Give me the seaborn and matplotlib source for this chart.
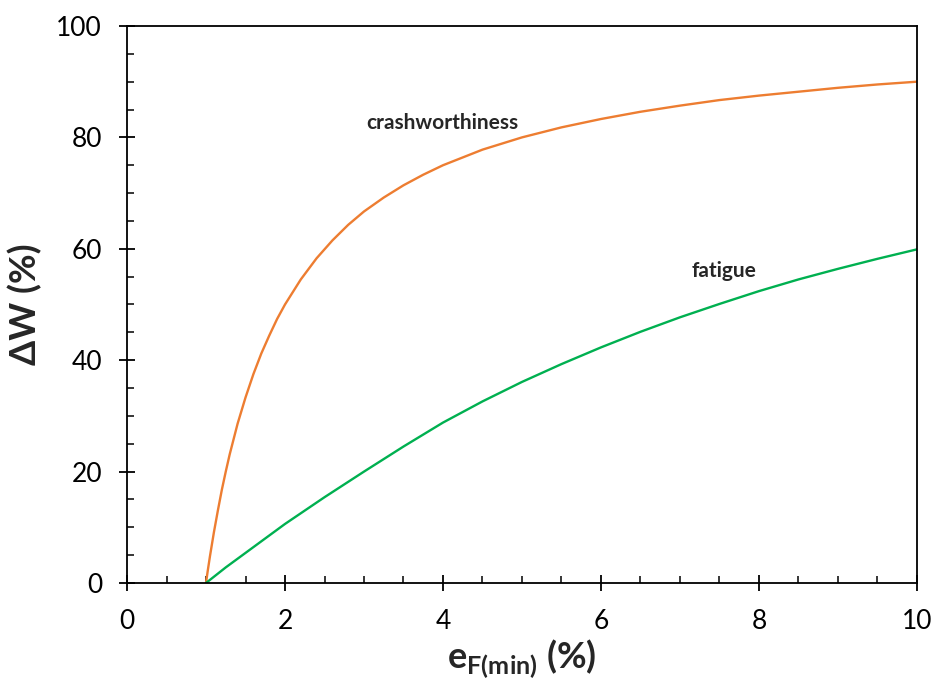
import matplotlib
matplotlib.use("Agg")
import matplotlib.pyplot as plt
import seaborn as sns
import pandas as pd
from matplotlib.ticker import MultipleLocator

# values
crash_x = [1.0, 1.02, 1.05, 1.1, 1.15, 1.2, 1.25, 1.3, 1.4, 1.5, 1.6, 1.7, 1.8, 1.9,
           2.0, 2.2, 2.4, 2.6, 2.8, 3.0, 3.25, 3.5, 3.75, 4.0, 4.5, 5.0, 5.5, 6.0,
           6.5, 7.0, 7.5, 8.0, 8.5, 9.0, 9.5, 10.0]
crash_y = [0.0, 2.0, 4.8, 9.1, 13.0, 16.7, 20.0, 23.1, 28.6, 33.3, 37.5, 41.2, 44.4, 47.4,
           50.0, 54.5, 58.3, 61.5, 64.3, 66.7, 69.2, 71.4, 73.3, 75.0, 77.8, 80.0, 81.8, 83.3,
           84.6, 85.7, 86.7, 87.5, 88.2, 88.9, 89.5, 90.0]

fatigue_x = [1.0, 1.25, 1.5, 2.0, 2.5, 3.0, 3.5, 4.0, 4.5, 5.0, 5.5, 6.0,
             6.5, 7.0, 7.5, 8.0, 8.5, 9.0, 9.5, 10.0]
fatigue_y = [0.0, 2.8, 5.4, 10.6, 15.4, 20.0, 24.5, 28.8, 32.6, 36.1, 39.3, 42.3,
             45.1, 47.7, 50.1, 52.4, 54.5, 56.4, 58.2, 59.9]

df_crash = pd.DataFrame({"x": crash_x, "y": crash_y})
df_fat = pd.DataFrame({"x": fatigue_x, "y": fatigue_y})

sns.set_style("ticks")
plt.rcParams["font.family"] = ["Lato", "DejaVu Sans"]
plt.rcParams["mathtext.fontset"] = "custom"
plt.rcParams["mathtext.rm"] = "Lato"
plt.rcParams["mathtext.bf"] = "Lato:bold"

fig = plt.figure(figsize=(9.38, 6.91), dpi=100)
ax = fig.add_axes([0.1354, 0.1563, 0.8422, 0.8061])

sns.lineplot(data=df_crash, x="x", y="y", color="#ED7D31", linewidth=1.7, ax=ax)
sns.lineplot(data=df_fat, x="x", y="y", color="#00B050", linewidth=1.7, ax=ax)

ax.set_xlim(0, 10)
ax.set_ylim(0, 100)
ax.xaxis.set_major_locator(MultipleLocator(2))
ax.xaxis.set_minor_locator(MultipleLocator(0.5))
ax.yaxis.set_major_locator(MultipleLocator(20))
ax.yaxis.set_minor_locator(MultipleLocator(5))
ax.tick_params(which="major", direction="inout", length=12, width=1.3, labelsize=19, colors="black")
ax.tick_params(axis="y", which="major", pad=12)
ax.tick_params(axis="x", which="major", pad=13)
ax.tick_params(which="minor", direction="in", length=5, width=1.3)
for s in ax.spines.values():
    s.set_linewidth(1.3)
    s.set_color("black")

ax.text(3.99, 82.6, "crashworthiness", fontsize=15, fontweight="bold", ha="center", va="center")
ax.text(7.56, 56.0, "fatigue", fontsize=15, fontweight="bold", ha="center", va="center")

ax.set_xlabel(r"$\mathbf{e}_{\mathbf{F(min)}}$ (%)", fontsize=26, fontweight="bold", labelpad=2)
ax.set_ylabel("ΔW (%)", fontsize=26, fontweight="bold", labelpad=10)

fig.savefig("out.png", dpi=100)
